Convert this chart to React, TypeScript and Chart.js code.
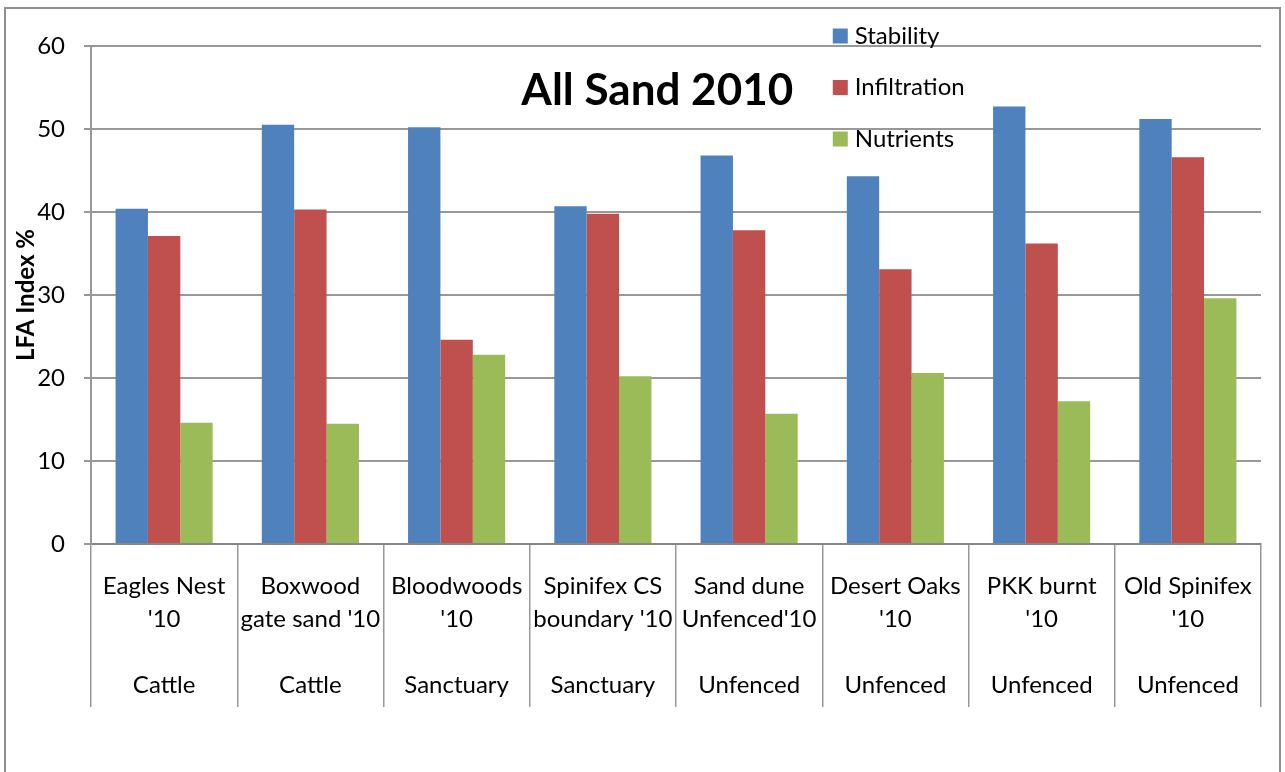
import React, { useEffect, useRef } from "react";
import { Chart, registerables } from "chart.js";

Chart.register(...registerables);

// Site names (two lines each) and the management group shown beneath them
const siteLine1 = ["Eagles Nest", "Boxwood", "Bloodwoods", "Spinifex CS", "Sand dune", "Desert Oaks", "PKK burnt", "Old Spinifex"];
const siteLine2 = ["'10", "gate sand '10", "'10", "boundary '10", "Unfenced'10", "'10", "'10", "'10"];
const management = ["Cattle", "Cattle", "Sanctuary", "Sanctuary", "Unfenced", "Unfenced", "Unfenced", "Unfenced"];

// LFA index values (%)
const stability = [40.4, 50.5, 50.2, 40.7, 46.8, 44.3, 52.7, 51.2];
const infiltration = [37.1, 40.3, 24.6, 39.8, 37.8, 33.1, 36.2, 46.6];
const nutrients = [14.6, 14.5, 22.8, 20.2, 15.7, 20.6, 17.2, 29.6];

const yTicks = { min: 0, max: 60, step: 10 };

const chartTitle = "All Sand 2010";
const yAxisTitle = "LFA Index %";

const FONT = "Lato, 'Open Sans', sans-serif";
const GRID = "#989898";

// Outer frame, chart title and the stacked legend at the top
const decorations = {
  id: "decorations",
  beforeDraw(chart: Chart) {
    const { ctx } = chart;
    ctx.save();
    ctx.fillStyle = "#ffffff";
    ctx.fillRect(0, 0, chart.width, chart.height);
    ctx.strokeStyle = "#8f8f8f";
    ctx.lineWidth = 2;
    ctx.strokeRect(5, 8, chart.width - 10, chart.height + 20);
    ctx.restore();
  },
  afterDraw(chart: Chart) {
    const { ctx, chartArea } = chart;
    const w = chartArea.right - chartArea.left;
    ctx.save();
    ctx.fillStyle = "#000";
    ctx.font = `bold 44px ${FONT}`;
    ctx.textAlign = "center";
    ctx.textBaseline = "alphabetic";
    ctx.fillText(chartTitle, chartArea.left + w * 0.484, chartArea.top + 59);

    const lx = chartArea.left + w * 0.634;
    const rowGap = 51.5;
    chart.data.datasets.forEach((ds, i) => {
      const cy = chartArea.top - 10 + i * rowGap;
      ctx.fillStyle = ds.backgroundColor as string;
      ctx.fillRect(lx, cy - 7.5, 15, 15);
      ctx.fillStyle = "#000";
      ctx.font = `24px ${FONT}`;
      ctx.textAlign = "left";
      ctx.textBaseline = "middle";
      ctx.fillText(ds.label as string, lx + 22, cy);
    });
    ctx.restore();
  },
};

export default function App() {
  const ref = useRef<HTMLCanvasElement>(null);

  useEffect(() => {
    if (!ref.current) return;
    const labels = siteLine1.map((s, i) => [s, siteLine2[i], "", management[i]]);
    const chart = new Chart(ref.current, {
      type: "bar",
      data: {
        labels,
        datasets: [
          { label: "Stability", data: stability, backgroundColor: "#4F81BD" },
          { label: "Infiltration", data: infiltration, backgroundColor: "#C0504D" },
          { label: "Nutrients", data: nutrients, backgroundColor: "#9BBB59" },
        ],
      },
      options: {
        animation: false,
        responsive: false,
        devicePixelRatio: 1,
        layout: { padding: { left: 0, top: 46, right: 24, bottom: 0 } },
        datasets: { bar: { categoryPercentage: 0.664, barPercentage: 1 } },
        plugins: {
          legend: { display: false },
          title: { display: false },
          tooltip: { enabled: false },
        },
        scales: {
          x: {
            grid: {
              offset: true,
              drawOnChartArea: false,
              drawTicks: true,
              tickLength: 163,
              color: GRID,
              lineWidth: 1.5,
            },
            border: { display: true, color: "#868686", width: 2 },
            ticks: {
              autoSkip: false,
              maxRotation: 0,
              minRotation: 0,
              padding: -137.5,
              color: "#000",
              font: { family: FONT, size: 24, lineHeight: 1.375 },
            },
            afterFit(scale: any) {
              scale.height = 228;
            },
          },
          y: {
            min: yTicks.min,
            max: yTicks.max,
            ticks: {
              stepSize: yTicks.step,
              padding: 19,
              color: "#000",
              font: { family: FONT, size: 24 },
            },
            grid: { color: GRID, lineWidth: 2, tickLength: 7 },
            border: { display: true, color: GRID, width: 2 },
            title: {
              display: true,
              text: yAxisTitle,
              color: "#000",
              font: { family: FONT, size: 24, weight: "bold" },
              padding: { top: 12, bottom: 0 },
            },
            afterFit(scale: any) {
              scale.width = 91;
            },
          },
        },
      },
      plugins: [decorations],
    });
    return () => chart.destroy();
  }, []);

  return (
    <div style={{ position: "fixed", left: 0, top: 0, width: 1285, height: 772, background: "#fff" }}>
      <canvas ref={ref} width={1285} height={772} style={{ width: 1285, height: 772, display: "block" }} />
    </div>
  );
}
